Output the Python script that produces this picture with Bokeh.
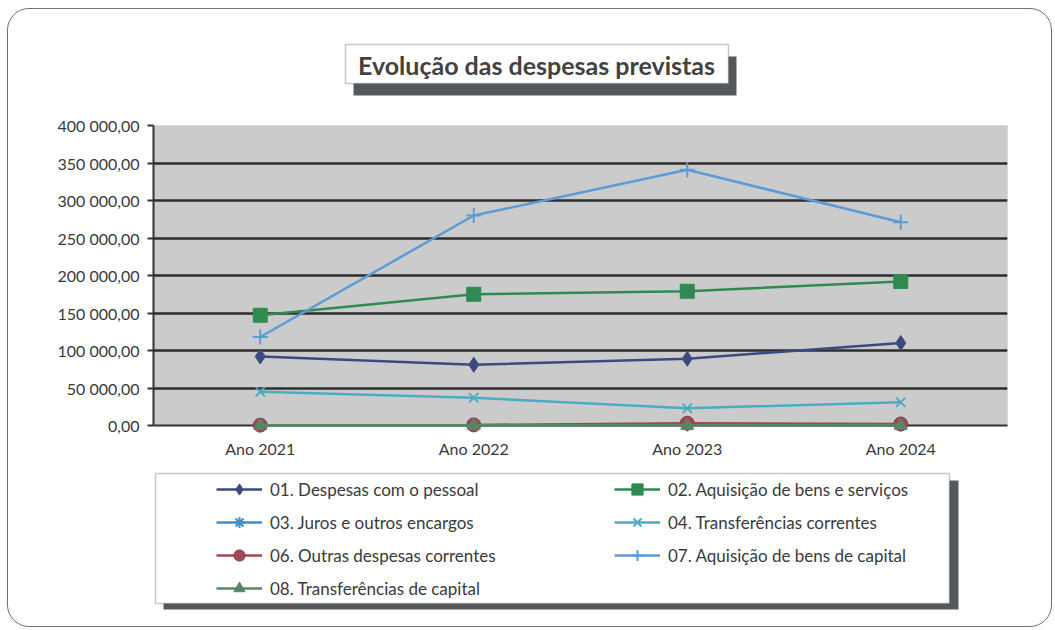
from bokeh.plotting import figure
from bokeh.layouts import column
from bokeh.models import (FactorRange, Range1d, Legend, LegendItem, BoxAnnotation,
                          Label, CustomJSTickFormatter, FixedTicker, InlineStyleSheet)
from bokeh.embed import file_html
from bokeh.resources import INLINE

# ---------------- data ----------------
years = ["Ano 2021", "Ano 2022", "Ano 2023", "Ano 2024"]
y_ticks = [0, 50000, 100000, 150000, 200000, 250000, 300000, 350000, 400000]
grid_ticks = [50000, 100000, 150000, 200000, 250000, 300000, 350000]

despesas_pessoal = [92000, 81000, 89000, 110000]
aquisicao_bens_servicos = [147000, 175000, 179000, 192000]
juros_encargos = [0, 0, 0, 0]
transf_correntes = [45000, 37000, 23000, 31000]
outras_despesas = [500, 800, 3000, 2000]
aquisicao_bens_capital = [118000, 280000, 341000, 271000]
transf_capital = [0, 0, 0, 0]

title_text = "Evolução das despesas previstas"
series_names = ["01. Despesas com o pessoal", "02. Aquisição de bens e serviços",
                "03. Juros e outros encargos", "04. Transferências correntes",
                "06. Outras despesas correntes", "07. Aquisição de bens de capital",
                "08. Transferências de capital"]
series_values = [despesas_pessoal, aquisicao_bens_servicos, juros_encargos, transf_correntes,
                 outras_despesas, aquisicao_bens_capital, transf_capital]
series_colors = ["#3d4a80", "#2f8a52", "#3f8fcb", "#4aacc0", "#a34655", "#5d9bd6", "#5a8466"]
series_markers = ["diamond", "square", "asterisk", "x", "circle", "cross", "triangle"]
marker_sizes = [15, 14, 12, 13, 14, 15, 13]

FONT = "Lato"
TXT = "#3a3a3a"
SHADOW = "#55595c"
W = 1050
H_TOP, H_MID, H_BOT = 100, 368, 158
LEFT, RIGHT = 153, 1007          # page x of the plotting frame (shared by all panels)


def deco_figure(h, y0):
    f = figure(width=W, height=h, x_range=Range1d(LEFT, RIGHT), y_range=Range1d(y0 + h, y0),
               output_backend="svg", toolbar_location=None, x_axis_type=None,
               y_axis_type=None, min_border_left=LEFT, min_border_right=W - RIGHT,
               min_border_top=0, min_border_bottom=0)
    f.outline_line_color = None
    f.grid.visible = False
    f.background_fill_color = None
    f.border_fill_color = None
    return f


# ---------------- title area ----------------
top = deco_figure(H_TOP, 0)
top.add_layout(BoxAnnotation(left=353, right=736, top=56, bottom=95, fill_color=SHADOW,
                             fill_alpha=1, line_color=None))
top.add_layout(BoxAnnotation(left=345, right=728, top=44, bottom=83, fill_color="white",
                             fill_alpha=1, line_color="#4a4a4a", line_width=1.5))
top.add_layout(Label(x=536, y=64, text=title_text, text_font=FONT, text_font_size="25px",
                     text_font_style="bold", text_color="#424242", text_align="center",
                     text_baseline="middle"))

# ---------------- main chart ----------------
p = figure(width=W, height=H_MID, x_range=FactorRange(*years), y_range=Range1d(0, 400000),
           output_backend="svg", toolbar_location=None,
           min_border_left=LEFT, min_border_right=W - RIGHT, min_border_top=25,
           min_border_bottom=43)
p.background_fill_color = "#cbcbcb"
p.border_fill_color = None
p.outline_line_color = "#dadada"
p.outline_line_width = 1

p.yaxis.ticker = FixedTicker(ticks=y_ticks)
p.yaxis.formatter = CustomJSTickFormatter(code="""
const s = tick.toFixed(2).split('.');
return s[0].replace(/\\B(?=(\\d{3})+(?!\\d))/g, ' ') + ',' + s[1];
""")
for ax in (p.yaxis[0], p.xaxis[0]):
    ax.axis_line_color = "#333333"
    ax.axis_line_width = 2
    ax.major_label_text_font = FONT
    ax.major_label_text_font_size = "16px"
    ax.major_label_text_color = TXT
    ax.minor_tick_line_color = None
p.yaxis.major_tick_line_color = "#333333"
p.yaxis.major_tick_line_width = 2
p.yaxis.major_tick_out = 6
p.yaxis.major_tick_in = 0
p.yaxis.major_label_standoff = 8
p.xaxis.major_tick_line_color = None
p.xaxis.major_label_standoff = 7

p.xgrid.grid_line_color = None
p.ygrid.ticker = FixedTicker(ticks=grid_ticks)
p.ygrid.grid_line_color = "#2e2e2e"
p.ygrid.grid_line_width = 2.5

# ---------------- legend area ----------------
y_bot0 = H_TOP + H_MID
bot = deco_figure(H_BOT, y_bot0)
bot.add_layout(BoxAnnotation(left=163, right=958, top=480, bottom=609, fill_color=SHADOW,
                             fill_alpha=1, line_color=None))
bot.add_layout(BoxAnnotation(left=155, right=949, top=473, bottom=603, fill_color="white",
                             fill_alpha=1, line_color="#4a4a4a", line_width=1.5))

nan = float("nan")
items = []
for name, vals, col, mk, ms in zip(series_names, series_values, series_colors,
                                   series_markers, marker_sizes):
    lw = 2 if mk in ("x", "cross", "asterisk") else 1
    fill = col
    line = "#8a3a48" if mk == "circle" else col
    p.line(years, vals, line_color=col, line_width=3 if mk == "triangle" else 2.5,
           level="overlay")
    p.scatter(years, vals, marker=mk, size=ms, fill_color=fill, line_color=line,
              line_width=lw, level="overlay")
    # legend swatches (same styles, no visible data)
    lr = bot.line(x=[nan], y=[nan], line_color=col, line_width=2.5)
    sr = bot.scatter(x=[nan], y=[nan], marker=mk, fill_color=fill, line_color=line,
                     line_width=lw)
    items.append(LegendItem(label=name, renderers=[lr, sr]))


def make_legend(its, loc):
    return Legend(items=its, location=loc, orientation="vertical",
                  border_line_color=None, background_fill_alpha=0,
                  label_text_font=FONT, label_text_font_size="17px", label_text_color=TXT,
                  glyph_width=46, glyph_height=28, label_height=20, spacing=5,
                  label_standoff=8, padding=0, margin=0)


bot_edge = H_TOP + H_MID + H_BOT
bot.add_layout(make_legend([items[0], items[2], items[4], items[6]],
                           (216 - LEFT, bot_edge - 602)))
bot.add_layout(make_legend([items[1], items[3], items[5]],
                           (614 - LEFT, bot_edge - 569)))

frame_css = InlineStyleSheet(css="""
:host::after {
  content: "";
  position: absolute;
  left: 7px; top: 8px;
  width: 1045px; height: 619px;
  box-sizing: border-box;
  border: 1.5px solid #707070;
  border-radius: 22px;
  pointer-events: none;
}
""")

layout = column(top, p, bot, spacing=0, stylesheets=[frame_css],
                styles={"background-color": "white"})

open("out.html", "w").write(file_html(layout, INLINE))
